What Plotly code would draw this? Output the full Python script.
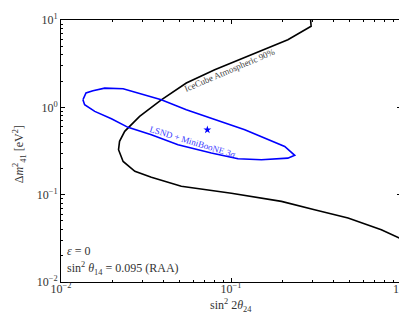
import plotly.graph_objects as go

# IceCube Atmospheric 90% contour (sin^2 2theta24, dm2_41)
icecube_x = [0.294, 0.296, 0.216, 0.138, 0.0802, 0.0546, 0.0389, 0.0290, 0.0237, 0.0221,
             0.0218, 0.0232, 0.0272, 0.0340, 0.0510, 0.1005, 0.198, 0.310, 0.488, 0.766, 1.0]
icecube_y = [10.0, 8.47, 5.95, 4.19, 2.70, 1.90, 1.22, 0.789, 0.531, 0.408,
             0.327, 0.240, 0.185, 0.158, 0.125, 0.104, 0.0838, 0.0671, 0.0540, 0.0396, 0.0313]

# LSND + MiniBooNE 3 sigma contour
lsnd_x = [0.01346, 0.01403, 0.01542, 0.01807, 0.0232, 0.0296, 0.0389, 0.0546, 0.0766, 0.1205,
          0.207, 0.237, 0.216, 0.151, 0.110, 0.0766, 0.0488, 0.0340, 0.0248, 0.0198,
          0.0158, 0.01377, 0.01346]
lsnd_y = [1.22, 1.46, 1.55, 1.66, 1.63, 1.42, 1.22, 0.939, 0.754, 0.553,
          0.357, 0.282, 0.262, 0.251, 0.258, 0.300, 0.373, 0.485, 0.590, 0.740,
          0.899, 1.07, 1.22]

# best fit point
best_x = [0.0726]
best_y = [0.553]

decades_x = [0.01, 0.1, 1.0]
decades_y = [0.01, 0.1, 1.0, 10.0]
decade_labels_x = ["10<sup>−2</sup>", "10<sup>−1</sup>", "10<sup>0</sup>"]
decade_labels_y = ["10<sup>−2</sup>", "10<sup>−1</sup>", "10<sup>0</sup>", "10<sup>1</sup>"]

minor_x = [d * k for d in decades_x[:-1] for k in range(2, 10)]
minor_y = [d * k for d in decades_y[:-1] for k in range(2, 10)]

FONT = "Liberation Serif"
TXT = "#333333"

fig = go.Figure()
fig.add_trace(go.Scatter(x=icecube_x, y=icecube_y, mode="lines",
                         line=dict(color="black", width=1.6), showlegend=False))
fig.add_trace(go.Scatter(x=lsnd_x, y=lsnd_y, mode="lines",
                         line=dict(color="#0000ff", width=1.6), showlegend=False))
fig.add_trace(go.Scatter(x=best_x, y=best_y, mode="markers",
                         marker=dict(symbol="star", size=6, color="#0000ff"), showlegend=False))

axis_common = dict(type="log", showgrid=False, zeroline=False, showline=True, automargin=False,
                   linecolor="black", linewidth=1, mirror="ticks", ticks="inside",
                   ticklen=4, tickcolor="black", tickfont=dict(family=FONT, size=12, color=TXT))

fig.update_xaxes(range=[-2, 0], tickmode="array", tickvals=decades_x, ticktext=decade_labels_x,
                 ticklabelstandoff=-4,
                 minor=dict(tickmode="array", tickvals=minor_x, ticks="inside", ticklen=2,
                            tickcolor="black"),
                 **axis_common)
fig.update_yaxes(range=[-2, 1], tickmode="array", tickvals=decades_y, ticktext=decade_labels_y,
                 minor=dict(tickmode="array", tickvals=minor_y, ticks="inside", ticklen=2,
                            tickcolor="black"),
                 **axis_common)

# axis titles
fig.add_annotation(x=0.5, y=-0.088, xref="paper", yref="paper",
                   text="sin<sup>2</sup> 2<i>θ</i><sub>24</sub>", showarrow=False,
                   xanchor="center", yanchor="middle",
                   font=dict(family=FONT, size=12, color=TXT))
fig.add_annotation(x=-0.121, y=0.487, xref="paper", yref="paper",
                   text="Δ<i>m</i><sup>2</sup><sub>41</sub> [eV<sup>2</sup>]", showarrow=False,
                   textangle=-90, xanchor="center", yanchor="middle",
                   font=dict(family=FONT, size=12, color=TXT))

fig.add_annotation(x=-1.006, y=0.427, xref="x", yref="y", text="IceCube Atmospheric 90%",
                   showarrow=False, textangle=-23,
                   font=dict(family=FONT, size=9, color="#444444"))
fig.add_annotation(x=-1.224, y=-0.397, xref="x", yref="y", text="LSND + MiniBooNE 3<i>σ</i>",
                   showarrow=False, textangle=17,
                   font=dict(family=FONT, size=9, color="#3a3aff"))
fig.add_annotation(x=0.012, y=0.12, xref="paper", yref="paper", text="<i>ε</i> = 0",
                   showarrow=False, xanchor="left", yanchor="middle",
                   font=dict(family=FONT, size=12, color=TXT))
fig.add_annotation(x=0.012, y=0.052, xref="paper", yref="paper",
                   text="sin<sup>2</sup> <i>θ</i><sub>14</sub> = 0.095 (RAA)",
                   showarrow=False, xanchor="left", yanchor="middle",
                   font=dict(family=FONT, size=12, color=TXT))

fig.update_layout(width=407, height=313, margin=dict(l=53, r=14, t=12, b=39),
                  plot_bgcolor="white", paper_bgcolor="white",
                  font=dict(family=FONT, color=TXT))

fig.write_html("out.html")
